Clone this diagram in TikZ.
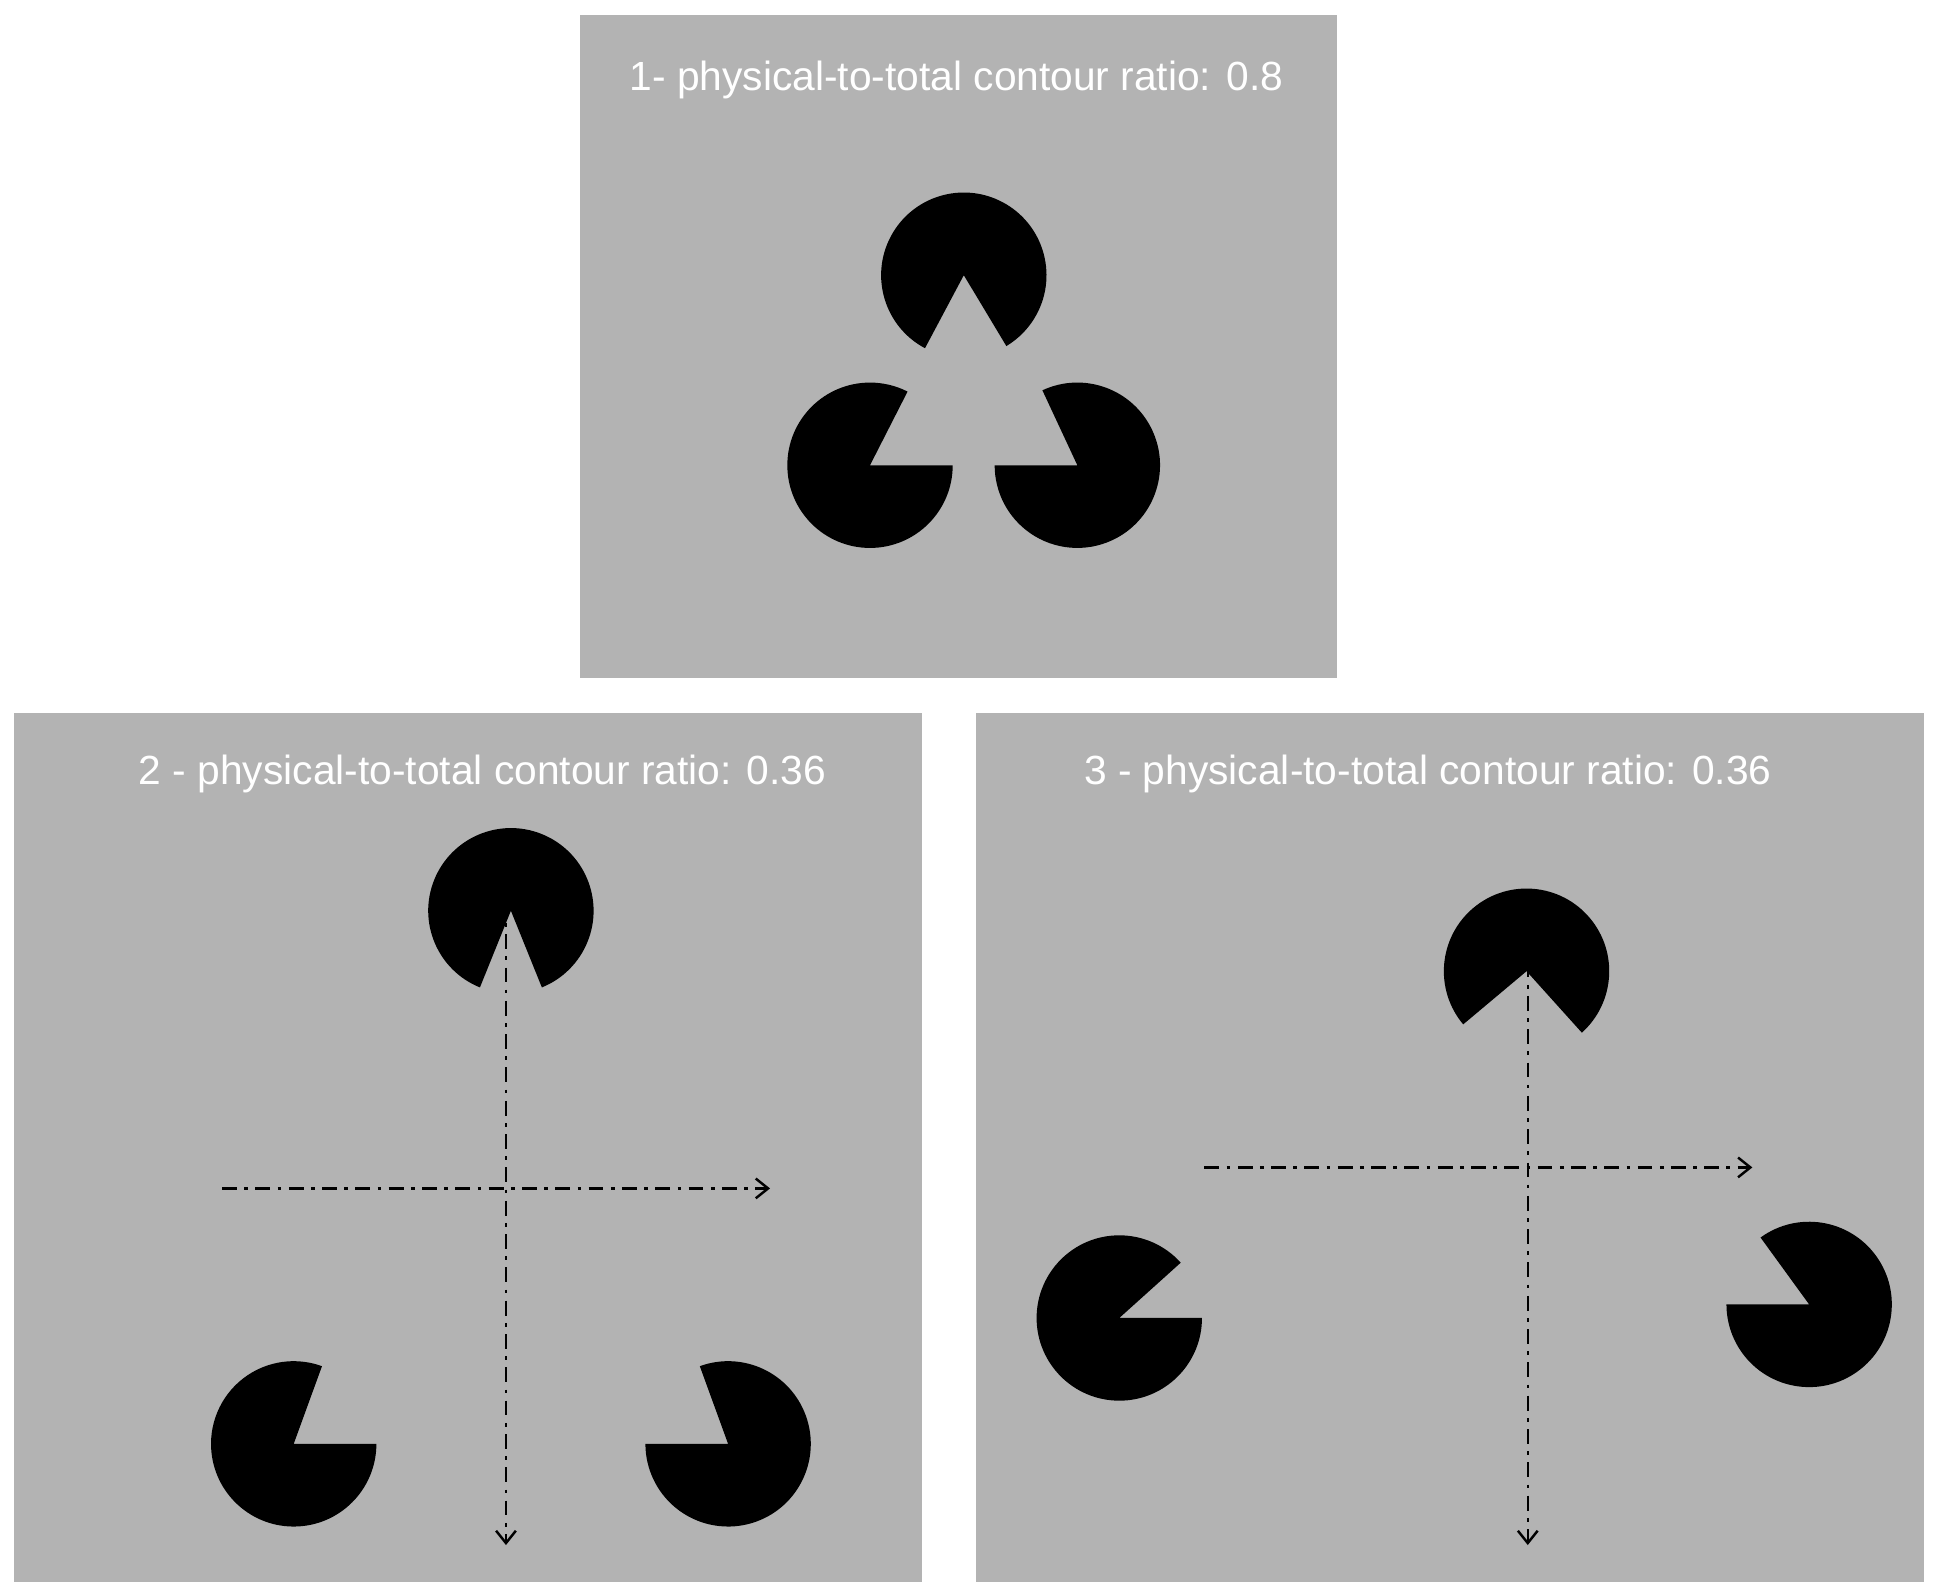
\documentclass[tikz,border=0pt]{standalone}
\usepackage{fontspec}
\setmainfont{Liberation Sans}
\usetikzlibrary{arrows.meta}
\definecolor{panelgray}{HTML}{B3B3B3}
\newcommand{\pacman}[5]{\fill[black] (#1,#2) -- ++(#4:#3) arc[start angle=#4,end angle=#5,radius=#3] -- cycle;}
\begin{document}
\begin{tikzpicture}[x=0.5pt,y=-0.5pt,
  panel/.style={fill=panelgray,draw=none},
  title/.style={text=white,font=\fontsize{16.5}{20}\selectfont,inner sep=0pt},
  axis/.style={line width=1pt,dash pattern=on 6pt off 3pt on 1.5pt off 3pt,-{Straight Barb[length=5pt,width=8pt,line width=1pt]}}]
\useasboundingbox (0,0) rectangle (1568,1292);
\fill[white] (0,0) rectangle (1568,1292);
\fill[panel] (470,12) rectangle (1083,549);
\fill[panel] (11,578) rectangle (747,1282);
\fill[panel] (791,578) rectangle (1559,1282);
\node[title] (t1) at (775,65) {1- physical-to-total contour ratio: 0.8};
\node[title] (t2) at (391,627) {2 - physical-to-total contour ratio: 0.36};
\node[title] (t3) at (1157,627) {3 - physical-to-total contour ratio: 0.36};
% panel 1
\pacman{781}{223}{67}{118}{419}
\pacman{705}{377}{67}{0}{297}
\pacman{873}{377}{67}{245}{540}
% panel 2
\pacman{414}{738}{67}{112}{428}
\pacman{238}{1170}{67}{0}{290}
\pacman{590}{1170}{67}{250}{540}
% panel 3
\pacman{1237}{787}{67}{140}{408}
\pacman{907}{1068}{67}{0}{318}
\pacman{1466}{1057}{67}{234}{540}
% axes
\coordinate (v2a) at (410,730); \coordinate (v2b) at (410,1252);
\coordinate (h2a) at (180,963); \coordinate (h2b) at (624,963);
\coordinate (v3a) at (1238,780); \coordinate (v3b) at (1238,1252);
\coordinate (h3a) at (976,946); \coordinate (h3b) at (1420,946);
\draw[axis] (v2a) -- (v2b);
\draw[axis] (h2a) -- (h2b);
\draw[axis] (v3a) -- (v3b);
\draw[axis] (h3a) -- (h3b);
\end{tikzpicture}
\end{document}
